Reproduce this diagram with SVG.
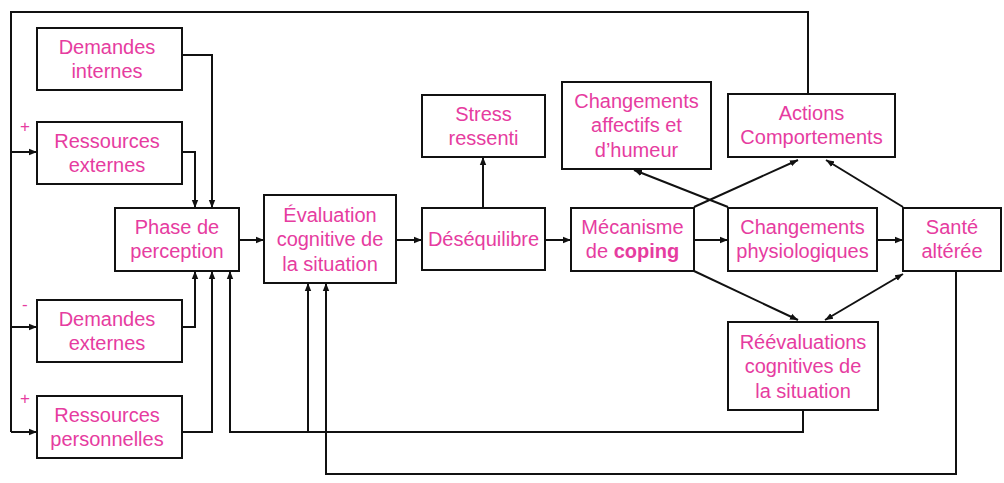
<svg xmlns="http://www.w3.org/2000/svg" width="1004" height="483" viewBox="0 0 1004 483">
<style>
.box{fill:#fff;stroke:#111;stroke-width:2}
.t{font-family:"Liberation Sans",Arial,sans-serif;font-size:20px;fill:#E63CA0;text-anchor:middle}
.c{fill:none;stroke:#111;stroke-width:2}
.s{font-family:"Liberation Sans",Arial,sans-serif;font-size:17px;fill:#E63CA0}
</style>
<defs>
<marker id="a" viewBox="0 0 10 10" refX="10" refY="5" markerWidth="8" markerHeight="8" markerUnits="userSpaceOnUse" orient="auto-start-reverse"><path d="M0,1 L10,5 L0,9 z" fill="#111"/></marker>
</defs>
<rect width="1004" height="483" fill="#fff"/>
<g id="connectors">
<path class="c" d="M808,94 V12 H11 V432"/>
<path class="c" d="M11,152 H37" marker-end="url(#a)"/>
<path class="c" d="M11,327 H37" marker-end="url(#a)"/>
<path class="c" d="M11,432 H37" marker-end="url(#a)"/>
<path class="c" d="M182,55 H212 V208" marker-end="url(#a)"/>
<path class="c" d="M182,152 H195 V208" marker-end="url(#a)"/>
<path class="c" d="M182,327 H195 V271" marker-end="url(#a)"/>
<path class="c" d="M182,432 H212 V271" marker-end="url(#a)"/>
<path class="c" d="M803,410 V432 H230 V271" marker-end="url(#a)"/>
<path class="c" d="M308,432 V283" marker-end="url(#a)"/>
<path class="c" d="M956,271 V474 H326 V283" marker-end="url(#a)"/>
<path class="c" d="M239,240 H264" marker-end="url(#a)"/>
<path class="c" d="M396,240 H422" marker-end="url(#a)"/>
<path class="c" d="M483,208 V157" marker-end="url(#a)"/>
<path class="c" d="M545,240 H571" marker-end="url(#a)"/>
<path class="c" d="M694,240 H728" marker-end="url(#a)"/>
<path class="c" d="M877,240 H903" marker-end="url(#a)"/>
<path class="c" d="M694,207 L798,160" marker-end="url(#a)"/>
<path class="c" d="M728,207 L634,170" marker-end="url(#a)"/>
<path class="c" d="M903,207 L826,160" marker-end="url(#a)"/>
<path class="c" d="M694,271 L798,320" marker-end="url(#a)"/>
<path class="c" d="M903,274 L825,320" marker-start="url(#a)" marker-end="url(#a)"/>
</g>
<g id="signs">
<text class="s" x="20" y="132">+</text>
<text class="s" x="22" y="310">-</text>
<text class="s" x="20" y="404">+</text>
</g>
<g id="demandes-internes"><rect class="box" x="37" y="28" width="145" height="62"/><text class="t"><tspan x="107" y="54">Demandes</tspan><tspan x="107" y="78">internes</tspan></text></g>
<g id="ressources-externes"><rect class="box" x="37" y="122" width="145" height="62"/><text class="t"><tspan x="107" y="148">Ressources</tspan><tspan x="107" y="172">externes</tspan></text></g>
<g id="phase-perception"><rect class="box" x="115" y="208" width="124" height="63"/><text class="t"><tspan x="177" y="234">Phase de</tspan><tspan x="177" y="258">perception</tspan></text></g>
<g id="demandes-externes"><rect class="box" x="37" y="300" width="145" height="62"/><text class="t"><tspan x="107" y="326">Demandes</tspan><tspan x="107" y="350">externes</tspan></text></g>
<g id="ressources-personnelles"><rect class="box" x="37" y="396" width="145" height="62"/><text class="t"><tspan x="107" y="422">Ressources</tspan><tspan x="107" y="446">personnelles</tspan></text></g>
<g id="evaluation"><rect class="box" x="264" y="195" width="132" height="88"/><text class="t"><tspan x="330" y="222">Évaluation</tspan><tspan x="330" y="246">cognitive de</tspan><tspan x="330" y="271">la situation</tspan></text></g>
<g id="desequilibre"><rect class="box" x="422" y="208" width="123" height="62"/><text class="t" x="483.5" y="246">Déséquilibre</text></g>
<g id="stress"><rect class="box" x="422" y="95" width="123" height="62"/><text class="t"><tspan x="483.5" y="121">Stress</tspan><tspan x="483.5" y="145">ressenti</tspan></text></g>
<g id="changements-affectifs"><rect class="box" x="562" y="82" width="149" height="87"/><text class="t"><tspan x="636.5" y="108">Changements</tspan><tspan x="636.5" y="132">affectifs et</tspan><tspan x="636.5" y="157">d’humeur</tspan></text></g>
<g id="actions"><rect class="box" x="728" y="94" width="167" height="63"/><text class="t"><tspan x="811.5" y="120">Actions</tspan><tspan x="811.5" y="144">Comportements</tspan></text></g>
<g id="coping"><rect class="box" x="571" y="208" width="123" height="63"/><text class="t"><tspan x="632.5" y="234">Mécanisme</tspan><tspan x="632.5" y="258">de <tspan font-weight="bold">coping</tspan></tspan></text></g>
<g id="changements-physio"><rect class="box" x="728" y="208" width="149" height="63"/><text class="t"><tspan x="802.5" y="234">Changements</tspan><tspan x="802.5" y="258">physiologiques</tspan></text></g>
<g id="sante"><rect class="box" x="903" y="208" width="98" height="63"/><text class="t"><tspan x="952" y="234">Santé</tspan><tspan x="952" y="258">altérée</tspan></text></g>
<g id="reevaluations"><rect class="box" x="728" y="322" width="150" height="88"/><text class="t"><tspan x="803" y="349">Réévaluations</tspan><tspan x="803" y="373">cognitives de</tspan><tspan x="803" y="398">la situation</tspan></text></g>
</svg>
